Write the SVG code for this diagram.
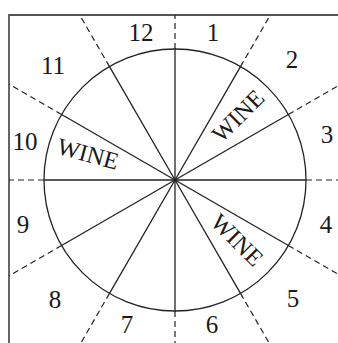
<svg xmlns="http://www.w3.org/2000/svg" width="338" height="343" viewBox="0 0 338 343">
<style>
.frame{stroke:#555;stroke-width:1.8;fill:none}
.solid{stroke:#222;stroke-width:1.3;fill:none}
.dash{stroke:#222;stroke-width:1.2;stroke-dasharray:6 4;fill:none}
.num{font-family:"Liberation Serif","Times New Roman",serif;font-size:25px;fill:#1a1a1a;text-anchor:middle}
.wine{font-family:"Liberation Serif","Times New Roman",serif;font-size:24px;fill:#1a1a1a;text-anchor:middle}
</style>
<rect width="338" height="343" fill="#fff"/>
<g id="frame">
<path class="frame" d="M9,343 V15 H338"/>
</g>
<g id="wheel">
<circle class="solid" cx="175" cy="180" r="131"/>
</g>
<g id="connectors">
<g class="solid">
<line x1="175" y1="180" x2="306" y2="180"/>
<line x1="175" y1="180" x2="288.4" y2="114.5"/>
<line x1="175" y1="180" x2="240.5" y2="66.6"/>
<line x1="175" y1="180" x2="175" y2="49"/>
<line x1="175" y1="180" x2="109.5" y2="66.6"/>
<line x1="175" y1="180" x2="61.6" y2="114.5"/>
<line x1="175" y1="180" x2="44" y2="180"/>
<line x1="175" y1="180" x2="61.6" y2="245.5"/>
<line x1="175" y1="180" x2="109.5" y2="293.4"/>
<line x1="175" y1="180" x2="175" y2="311"/>
<line x1="175" y1="180" x2="240.5" y2="293.4"/>
<line x1="175" y1="180" x2="288.4" y2="245.5"/>
</g>
<g class="dash">
<line x1="306" y1="180" x2="338" y2="180"/>
<line x1="288.4" y1="114.5" x2="338" y2="85.9"/>
<line x1="240.5" y1="66.6" x2="270.3" y2="15"/>
<line x1="175" y1="49" x2="175" y2="15"/>
<line x1="109.5" y1="66.6" x2="79.7" y2="15"/>
<line x1="61.6" y1="114.5" x2="9" y2="84.2"/>
<line x1="44" y1="180" x2="9" y2="180"/>
<line x1="61.6" y1="245.5" x2="9" y2="275.8"/>
<line x1="109.5" y1="293.4" x2="80.9" y2="343"/>
<line x1="175" y1="311" x2="175" y2="343"/>
<line x1="240.5" y1="293.4" x2="269.1" y2="343"/>
<line x1="288.4" y1="245.5" x2="338" y2="274.1"/>
</g>
</g>
<g id="numbers">
<text class="num" x="141" y="41">12</text>
<text class="num" x="213" y="41">1</text>
<text class="num" x="292" y="68">2</text>
<text class="num" x="327" y="143">3</text>
<text class="num" x="326" y="233">4</text>
<text class="num" x="293" y="307">5</text>
<text class="num" x="212" y="333">6</text>
<text class="num" x="127" y="333">7</text>
<text class="num" x="55" y="308">8</text>
<text class="num" x="23" y="233">9</text>
<text class="num" x="25" y="150">10</text>
<text class="num" x="53" y="74">11</text>
</g>
<g id="wine-labels">
<text class="wine" transform="translate(238,116) rotate(-45)" y="8">WINE</text>
<text class="wine" transform="translate(88,154) rotate(15)" y="8">WINE</text>
<text class="wine" transform="translate(237,240) rotate(45)" y="8">WINE</text>
</g>
</svg>
